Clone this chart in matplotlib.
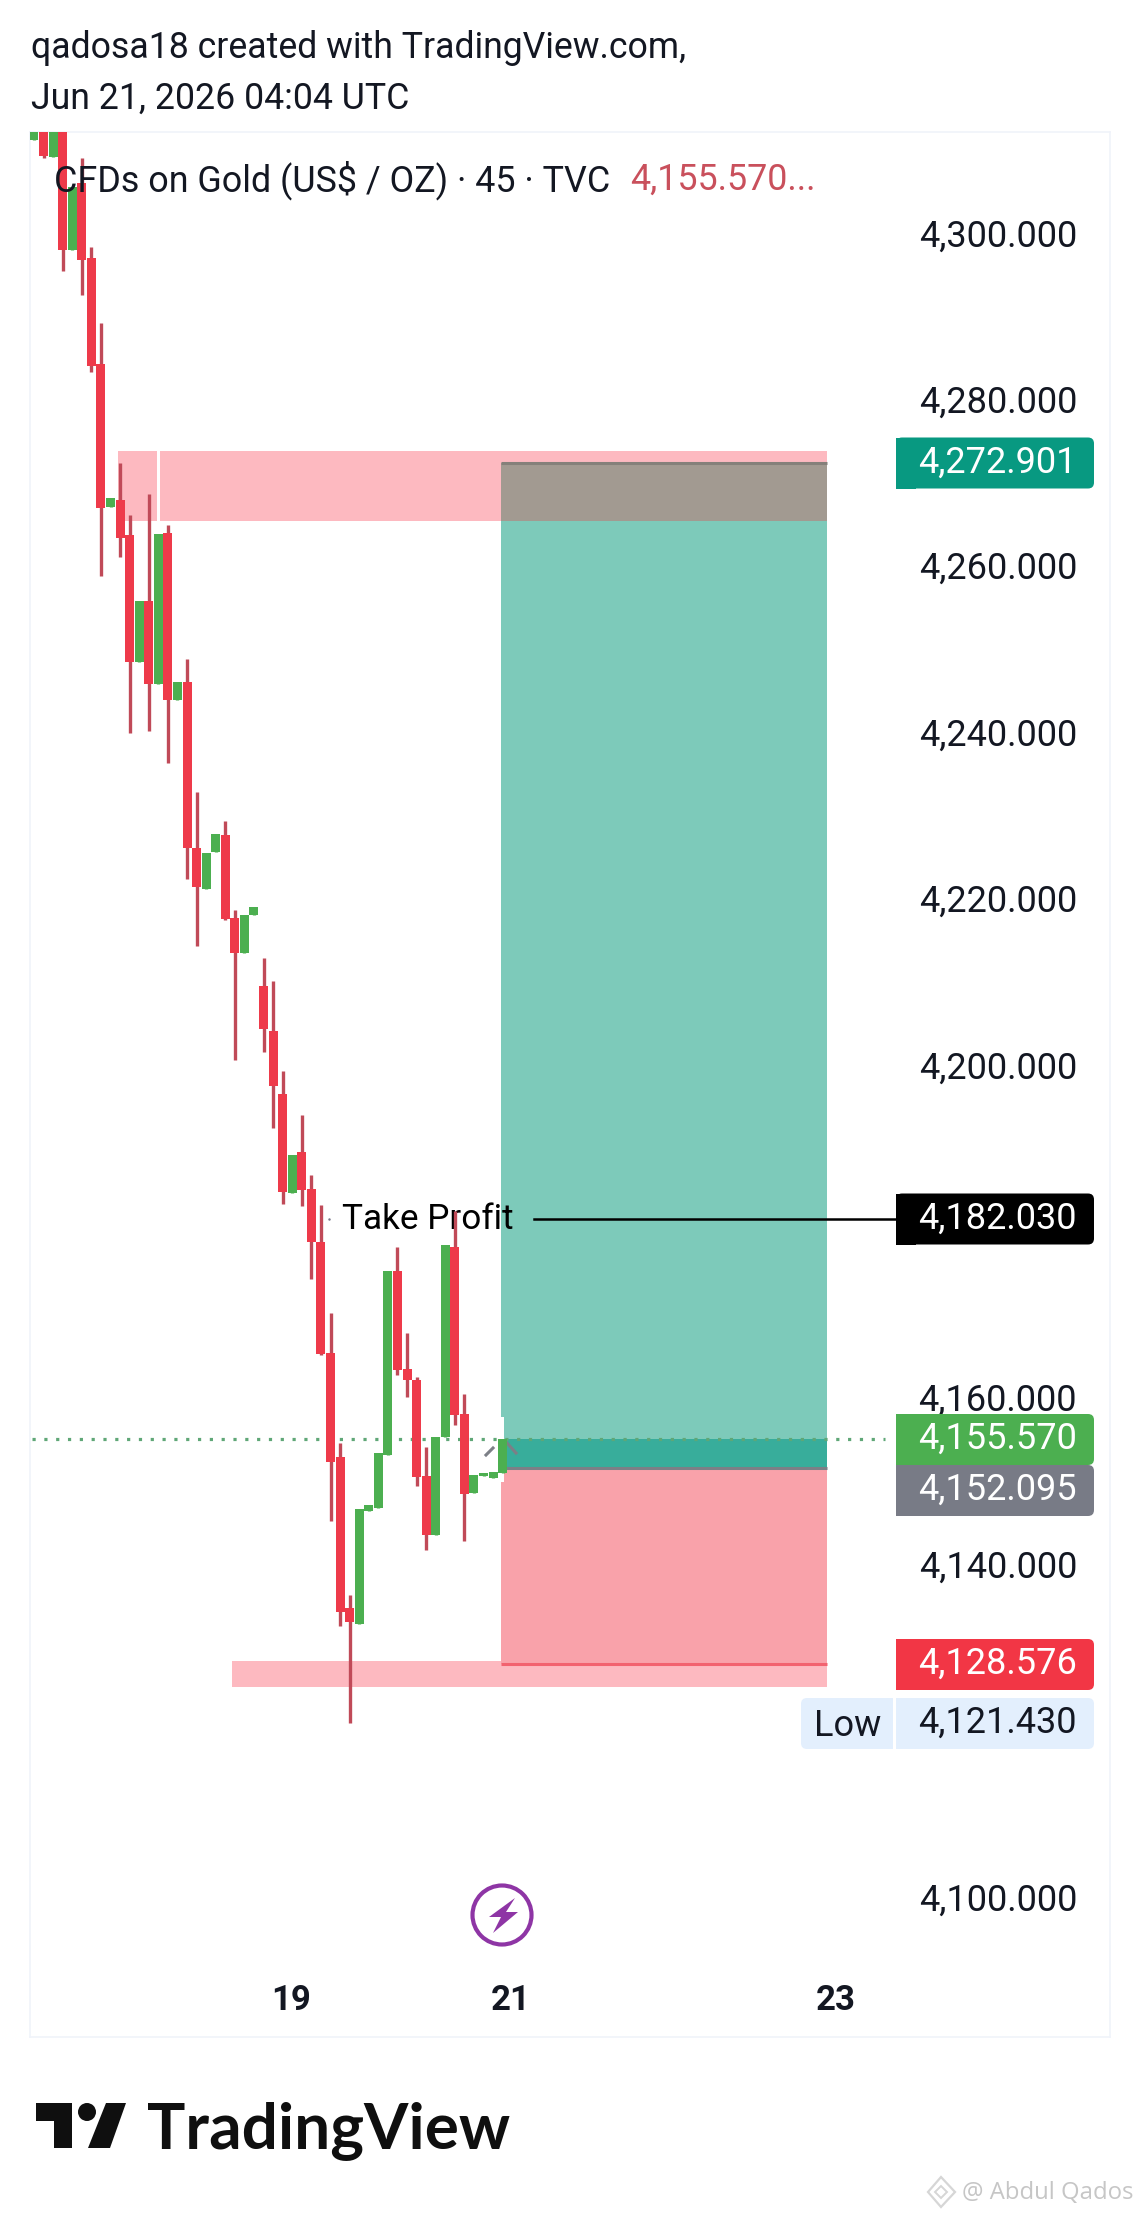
#!/usr/bin/env python3
import matplotlib
matplotlib.use("Agg")
import matplotlib.pyplot as plt
from matplotlib.patches import Rectangle, FancyBboxPatch, Polygon, Circle

plt.rcParams['font.family'] = ['Roboto', 'DejaVu Sans']

# candles (gold, 45 min)
opens = [4311.7, 4315.0, 4309.7, 4316.0, 4298.55, 4306.54, 4297.55, 4284.77, 4267.66, 4268.51,
         4264.23, 4249.03, 4256.35, 4246.32, 4264.47, 4244.37, 4246.65, 4226.63, 4221.75, 4226.12,
         4228.15, 4218.21, 4214.07, 4218.54, 4210.07, 4204.64, 4197.05, 4185.23, 4190.15, 4185.65,
         4179.34, 4165.96, 4153.43, 4135.32, 4133.43, 4147.0, 4147.29, 4153.73, 4175.79, 4164.03,
         4162.74, 4151.15, 4144.11, 4155.79, 4178.66, 4158.58, 4149.14, 4151.16, 4150.94, 4151.54]
closes = [4313.5, 4309.86, 4315.0, 4298.55, 4306.06, 4297.36, 4284.58, 4267.56, 4268.66, 4263.95,
          4249.03, 4256.35, 4246.41, 4264.33, 4244.42, 4246.65, 4226.67, 4221.98, 4226.03, 4228.33,
          4218.12, 4213.98, 4218.58, 4219.54, 4204.92, 4198.07, 4185.32, 4189.69, 4185.55, 4179.34,
          4165.79, 4152.87, 4134.76, 4133.56, 4147.16, 4147.64, 4153.9, 4175.79, 4163.94, 4162.74,
          4150.98, 4144.11, 4155.79, 4178.92, 4158.54, 4149.05, 4151.24, 4151.5, 4151.63, 4155.57]
highs = [4313.5, 4315.0, 4315.0, 4316.0, 4306.06, 4309.53, 4298.84, 4289.8, 4268.66, 4272.93,
         4266.61, 4256.35, 4269.13, 4264.33, 4265.42, 4246.65, 4249.4, 4233.39, 4226.03, 4228.33,
         4229.94, 4219.13, 4218.58, 4219.54, 4213.38, 4210.71, 4199.81, 4189.69, 4194.52, 4187.39,
         4183.69, 4170.81, 4155.15, 4136.86, 4147.16, 4147.64, 4153.9, 4175.79, 4178.66, 4168.36,
         4163.0, 4154.63, 4155.79, 4178.92, 4182.96, 4161.03, 4151.24, 4151.5, 4151.63, 4155.57]
lows = [4311.7, 4309.6, 4309.7, 4295.94, 4298.55, 4293.13, 4283.82, 4259.39, 4267.66, 4261.62,
        4240.47, 4249.03, 4240.71, 4246.32, 4236.86, 4244.37, 4222.9, 4214.9, 4221.75, 4226.12,
        4218.03, 4201.19, 4214.07, 4218.54, 4202.11, 4193.0, 4183.9, 4185.23, 4183.62, 4174.88,
        4165.66, 4145.7, 4133.17, 4121.43, 4133.43, 4147.0, 4147.29, 4153.73, 4163.3, 4160.68,
        4150.0, 4142.27, 4144.11, 4155.79, 4157.29, 4143.34, 4149.14, 4151.16, 4150.94, 4151.54]

price_ticks = [4300, 4280, 4260, 4240, 4220, 4200, 4160, 4140, 4100]
time_ticks = [26.87, 49.8, 83.85]
time_labels = ["19", "21", "23"]

last_price = 4155.570
entry_price = 4152.095
target_price = 4272.901
stop_price = 4128.576
take_profit = 4182.030
low_price = 4121.430

W, H = 1140, 2217
BAR_STEP = 9.565
BAR_X0 = 34
PANE = (30, 132, 1110, 2037)
K = 8.32
UP = '#4caf50'
DOWN = '#ee3a4a'
WICK = '#c04a58'
TEXT = '#131722'

def ix(px):
    return (px - BAR_X0) / BAR_STEP

def price(py):
    return last_price + (1439.3 - py) / K

fig = plt.figure(figsize=(W / 100, H / 100), dpi=100, facecolor='white')
ax = fig.add_axes([PANE[0] / W, 1 - PANE[3] / H, (PANE[2] - PANE[0]) / W, (PANE[3] - PANE[1]) / H])
ax.set_xlim(ix(PANE[0]), ix(PANE[2]))
ax.set_ylim(price(PANE[3]), price(PANE[1]))
ax.set_xticks([])
ax.set_yticks([])
for s in ax.spines.values():
    s.set_color('#f0f3fa')
    s.set_linewidth(1.2)

# supply / demand zones
zone_top = (price(451), price(520.5))
zone_low = (price(1661), price(1687))
right = ix(827)
left_box = ix(500.5)
PINK = '#fdb9c0'
for x0, x1 in [(ix(118), ix(157)), (ix(160), right)]:
    ax.add_patch(Rectangle((x0, zone_top[1]), x1 - x0, zone_top[0] - zone_top[1], fc=PINK, ec='none', zorder=1))
ax.add_patch(Rectangle((ix(232), zone_low[1]), right - ix(232), zone_low[0] - zone_low[1], fc=PINK, ec='none', zorder=1))

# long position tool
w = right - left_box
ax.add_patch(Rectangle((left_box, last_price), w, target_price - last_price, fc='#7dcaba', ec='none', zorder=2))
ax.add_patch(Rectangle((left_box, zone_top[1]), w, target_price - zone_top[1], fc='#a29a91', ec='none', zorder=2))
ax.add_patch(Rectangle((left_box, entry_price), w, last_price - entry_price, fc='#38ad9b', ec='none', zorder=2))
ax.add_patch(Rectangle((left_box, stop_price), w, entry_price - stop_price, fc='#f9a2aa', ec='none', zorder=2))
ax.plot([left_box, right], [target_price] * 2, color='#85807a', lw=2.2, zorder=2.5, solid_capstyle='butt')
ax.plot([left_box, right], [entry_price] * 2, color='#7c7f86', lw=2.2, zorder=2.5, solid_capstyle='butt')
ax.plot([left_box, right], [stop_price] * 2, color='#f2626f', lw=2.2, zorder=2.5, solid_capstyle='butt')
ax.add_patch(Rectangle((left_box, price(1482)), ix(504) - left_box, price(1417) - price(1482), fc='white', ec='none', zorder=2.6))

# last price line
ax.plot([ix(32), ix(885)], [last_price] * 2, color='#5fa777', lw=2.3, ls=(0, (1, 2.7)), zorder=3)

ax.text(ix(342), take_profit, "Take Profit", fontsize=25.3, color='black', va='center', ha='left', zorder=3.2)
ax.plot([ix(534), ix(897)], [take_profit] * 2, color='black', lw=1.8, zorder=3.2)
ax.plot([ix(329)], [take_profit], marker='.', ms=1.5, color='#778', zorder=3.2)

# handles around the entry point
ax.plot([ix(486), ix(493)], [price(1455), price(1448)], color='#7c7f86', lw=2.2, zorder=3.3)
ax.plot([ix(507), ix(516)], [price(1443), price(1453)], color='#7c7f86', lw=2.2, zorder=3.3)

# candles
for i, (o, c, h, l) in enumerate(zip(opens, closes, highs, lows)):
    up = c >= o
    ax.vlines(i, l, h, color=WICK if not up else UP, lw=2.4, zorder=4 + i * 0.001)
    ax.bar(i, abs(c - o), bottom=min(o, c), width=0.94, color=UP if up else DOWN, zorder=4.5 + i * 0.001)

# axis labels
for p in price_ticks:
    ax.annotate(f"{p:,.3f}", (ix(1077), p), xytext=(0, 1.0), textcoords='offset points',
                fontsize=26, color=TEXT, ha='right', va='center', zorder=6)
for t, lab in zip(time_ticks, time_labels):
    ax.text(t, price(2000), lab, fontsize=25, fontweight='bold', color=TEXT, ha='center', va='center', zorder=6)

# overlay in pixel coordinates
ov = fig.add_axes([0, 0, 1, 1], facecolor='none')
ov.set_xlim(0, W)
ov.set_ylim(H, 0)
ov.axis('off')

ov.text(31, 48.5, "qadosa18 created with TradingView.com,", fontsize=25.7, color=TEXT, va='center')
ov.text(31, 99, "Jun 21, 2026 04:04 UTC", fontsize=25.7, color=TEXT, va='center')
ov.text(54, 180, "CFDs on Gold (US$ / OZ) · 45 · TVC", fontsize=25.8, color=TEXT, va='center')
ov.text(630, 180, f"{last_price:,.3f}...", fontsize=25.8, color='#c9505c', va='center')

def price_label(yc, txt, bg, fg):
    ov.add_patch(FancyBboxPatch((896, yc - 25.5), 198, 51, boxstyle='round,pad=0,rounding_size=6', fc=bg, ec='none', zorder=5))
    ov.add_patch(Rectangle((896, yc - 25.5), 20, 51, fc=bg, ec='none', zorder=5))
    ov.text(1077, yc - 0.5, txt, fontsize=26, color=fg, ha='right', va='center', zorder=6)

price_label(463, f"{target_price:,.3f}", '#089981', 'white')
price_label(1219, f"{take_profit:,.3f}", 'black', 'white')
price_label(1439.5, f"{last_price:,.3f}", UP, 'white')
price_label(1490.5, f"{entry_price:,.3f}", '#787b86', 'white')
price_label(1664.5, f"{stop_price:,.3f}", '#f23645', 'white')
price_label(1723.5, f"{low_price:,.3f}", '#e3effd', TEXT)
ov.add_patch(FancyBboxPatch((801, 1698), 92, 51, boxstyle='round,pad=0,rounding_size=6', fc='#e3effd', ec='none', zorder=5))
ov.add_patch(Rectangle((869, 1698), 24, 51, fc='#e3effd', ec='none', zorder=5))
ov.text(848, 1726, "Low", fontsize=26, color=TEXT, ha='center', va='center', zorder=6)

# session break icon
ov.add_patch(Circle((502, 1915), 29.5, fc='white', ec='#8e35a5', lw=3))
ov.add_patch(Polygon([(515, 1898), (489, 1917), (501, 1917), (493, 1933), (518, 1912), (506, 1912)], fc='#8e35a5', ec='none'))

# logo
LOGO = '#0f0f0f'
ov.add_patch(Polygon([(36, 2103), (72.4, 2103), (72.4, 2148), (54, 2148), (54, 2121), (36, 2121)], fc=LOGO, ec='none'))
ov.add_patch(Circle((87, 2112), 9, fc=LOGO, ec='none'))
ov.add_patch(Polygon([(106, 2103), (126, 2103), (110, 2148), (88, 2148)], fc=LOGO, ec='none'))
ov.text(147, 2131, "TradingView", fontsize=46, fontweight='bold', family='Lato', color=LOGO, va='center')

ov.text(962, 2193, "@ Abdul Qados", fontsize=17.2, family='Open Sans', color='#c6c6c6', va='center')
ov.add_patch(Polygon([(941, 2177), (955, 2192), (941, 2207), (928, 2192)], fc='none', ec='#d6d6d6', lw=1.6))
ov.add_patch(Polygon([(941, 2186), (947, 2192), (941, 2198), (935, 2192)], fc='none', ec='#d6d6d6', lw=1.4))

fig.savefig('out.png', dpi=100, facecolor='white')
